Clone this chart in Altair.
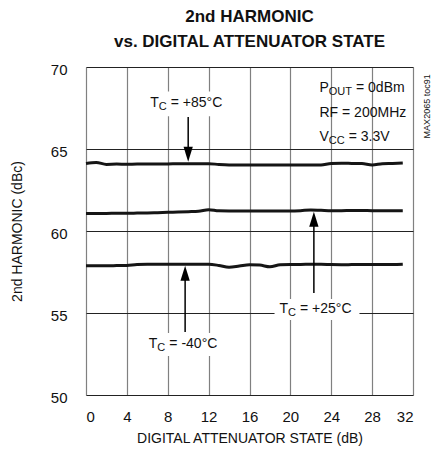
import altair as alt
import pandas as pd

# ---------------- data ----------------
state = list(range(32))
t85 = [64.12, 64.18, 64.06, 64.08, 64.07, 64.08, 64.08, 64.09, 64.09, 64.10, 64.10, 64.10,
       64.10, 64.06, 64.03, 64.02, 64.02, 64.02, 64.02, 64.02, 64.02, 64.02, 64.02, 64.03,
       64.12, 64.13, 64.12, 64.11, 64.03, 64.10, 64.12, 64.15]
t25 = [61.06, 61.07, 61.07, 61.08, 61.08, 61.09, 61.10, 61.12, 61.14, 61.16, 61.18, 61.20,
       61.30, 61.23, 61.22, 61.22, 61.22, 61.22, 61.22, 61.22, 61.22, 61.24, 61.28, 61.26,
       61.24, 61.24, 61.25, 61.25, 61.24, 61.24, 61.24, 61.24]
tm40 = [57.88, 57.88, 57.88, 57.89, 57.90, 57.96, 57.97, 57.97, 57.97, 57.97, 57.97, 57.97,
        57.97, 57.90, 57.79, 57.86, 57.94, 57.92, 57.82, 57.94, 57.96, 57.96, 57.97, 57.97,
        57.95, 57.94, 57.95, 57.96, 57.96, 57.96, 57.96, 57.98]
series_names = ["+85", "+25", "-40"]

x_ticks = [0, 4, 8, 12, 16, 20, 24, 28, 32]
y_ticks = [50, 55, 60, 65, 70]

# arrows: x, tail y, tip y, direction
arrow_x = [10.0, 22.3, 9.7]
arrow_tail = [66.95, 56.22, 53.84]
arrow_tip = [64.22, 61.18, 57.88]
arrow_dir = ["down", "up", "up"]

FONT = "Liberation Sans, Arial, sans-serif"
LINE = "#151515"
FS = 14
SS = 11

rows = []
for name, vals in zip(series_names, [t85, t25, tm40]):
    for s, v in zip(state, vals):
        rows.append({"state": s, "harm": v, "series": name})
df = pd.DataFrame(rows)

xs = alt.Scale(domain=[0, 32], nice=False, zero=False)
ys = alt.Scale(domain=[50, 70], nice=False, zero=False)

base = alt.Chart(df)
lines = base.mark_line(color=LINE, strokeWidth=3, interpolate="monotone").encode(
    x=alt.X("state:Q", scale=xs,
            axis=alt.Axis(values=x_ticks, title="DIGITAL ATTENUATOR STATE (dB)",
                          grid=True, gridColor="#808080", gridWidth=1.2,
                          ticks=False, domain=False, labelPadding=14, titlePadding=7,
                          labelFontSize=15, titleFontSize=FS, labelFont=FONT, titleFont=FONT,
                          titleFontWeight="normal", labelColor="#111", titleColor="#111")),
    y=alt.Y("harm:Q", scale=ys,
            axis=alt.Axis(values=y_ticks, title="2nd HARMONIC (dBc)",
                          grid=True, gridColor="#222", gridWidth=1,
                          ticks=False, domain=False, labelPadding=19, titlePadding=26,
                          labelOffset=2,
                          labelFontSize=15, titleFontSize=FS, labelFont=FONT, titleFont=FONT,
                          titleFontWeight="normal", labelColor="#111", titleColor="#111")),
    detail="series:N",
)

# white boxes behind labels
box_df = pd.DataFrame({
    "x1": [5.8, 5.7, 18.45], "x2": [14.0, 13.9, 26.76],
    "y1": [68.5, 53.78, 55.85], "y2": [67.0, 52.38, 54.57],
})
boxes = alt.Chart(box_df).mark_rect(color="white").encode(
    x=alt.X("x1:Q", scale=xs), x2="x2:Q", y=alt.Y("y1:Q", scale=ys), y2="y2:Q")

# arrows
HEAD = 0.457
ar_df = pd.DataFrame({
    "x": arrow_x, "tail": arrow_tail, "tip": arrow_tip, "dir": arrow_dir,
})
ar_df["hc"] = [t + HEAD if d == "down" else t - HEAD for t, d in zip(arrow_tip, arrow_dir)]
shafts = alt.Chart(ar_df).mark_rule(color="black", strokeWidth=1.5).encode(
    x=alt.X("x:Q", scale=xs), y=alt.Y("tail:Q", scale=ys), y2="hc:Q")
heads_down = alt.Chart(ar_df[ar_df["dir"] == "down"]).mark_point(
    shape="M-0.62,-1L0.62,-1L0,1Z", size=225, filled=True, color="black", opacity=1,
    strokeWidth=0).encode(x=alt.X("x:Q", scale=xs), y=alt.Y("hc:Q", scale=ys))
heads_up = alt.Chart(ar_df[ar_df["dir"] == "up"]).mark_point(
    shape="M-0.62,1L0.62,1L0,-1Z", size=225, filled=True, color="black", opacity=1,
    strokeWidth=0).encode(x=alt.X("x:Q", scale=xs), y=alt.Y("hc:Q", scale=ys))


def piece(x, y, text, dx=0, dy=0, size=FS, align="left", angle=0):
    return alt.Chart(pd.DataFrame({"x": [x], "y": [y], "t": [text]})).mark_text(
        font=FONT, fontSize=size, align=align, baseline="middle", dx=dx, dy=dy,
        color="#111", angle=angle).encode(
        x=alt.X("x:Q", scale=xs), y=alt.Y("y:Q", scale=ys), text="t:N")


def sub_label(x, y, main, sub, rest, w_main, w_sub, size=FS, ssize=SS):
    return [
        piece(x, y, main, 0, 0, size),
        piece(x, y, sub, w_main, 4, ssize),
        piece(x, y, rest, w_main + w_sub + 4, 0, size),
    ]


texts = []
texts += sub_label(6.28, 67.79, "T", "C", "= +85°C", 8.6, 8.0)
texts += sub_label(6.14, 53.10, "T", "C", "= -40°C", 8.6, 8.0)
texts += sub_label(18.93, 55.23, "T", "C", "= +25°C", 8.6, 8.0)
texts += sub_label(22.85, 68.70, "P", "OUT", "= 0dBm", 9.3, 23.2)
texts.append(piece(22.85, 67.18, "RF = 200MHz"))
texts += sub_label(22.85, 65.75, "V", "CC", "= 3.3V", 9.3, 15.9)
texts.append(piece(33.35, 67.6, "MAX2065 toc91", size=9, align="center", angle=270))

chart = alt.layer(lines, boxes, shafts, heads_down, heads_up, *texts).properties(
    width=327, height=328,
    autosize=alt.AutoSizeParams(type="none"),
    padding={"left": 78, "top": 59, "right": 22, "bottom": 56},
    title=alt.TitleParams(
        text=["2nd HARMONIC", "vs. DIGITAL ATTENUATOR STATE"],
        font=FONT, fontSize=17, fontWeight="bold", color="#111",
        anchor="middle", lineHeight=25, offset=11),
).configure_view(stroke="black", strokeWidth=3).configure(background="white")

chart.save("out.html", embed_options={"renderer": "svg", "actions": False})
